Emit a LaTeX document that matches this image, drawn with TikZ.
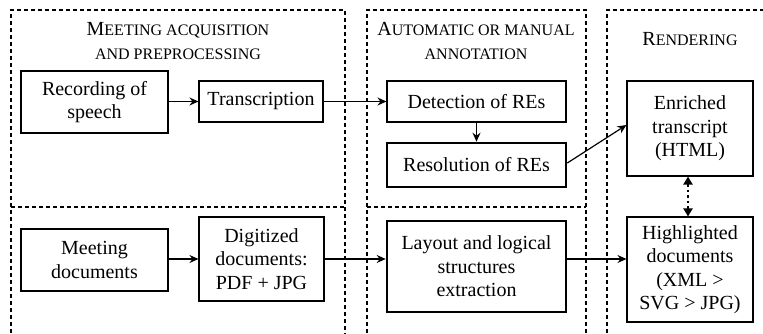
\documentclass[tikz,border=0pt]{standalone}
\usepackage{fontspec}
\setmainfont{Liberation Serif}
\usetikzlibrary{arrows.meta}
\newcommand{\MySC}[2]{{\fontsize{20}{24}\selectfont #1}{\fontsize{16}{24}\selectfont #2}}
\begin{document}
\begin{tikzpicture}[x=1pt,y=-1pt,
  box/.style={draw, line width=1.1pt, align=center, inner sep=0pt, font=\fontsize{20}{23.5}\selectfont},
  thickbox/.style={box, line width=2.6pt},
  frame/.style={dash pattern=on 4pt off 3pt, line width=1.1pt},
  arr/.style={-{Stealth[length=9pt,width=8pt,inset=3pt]}, line width=1.2pt},
  title/.style={align=center, inner sep=0pt, font=\fontsize{16}{24}\selectfont}]
\useasboundingbox (0,0) rectangle (763,333);
\begin{scope}
\clip (0,0) rectangle (763,333);
\draw[frame] (11,340) -- (11,10) -- (345,10) -- (345,340);
\draw[frame] (11,207) -- (345,207);
\draw[frame] (367,340) -- (367,10) -- (586,10) -- (586,340);
\draw[frame] (367,207) -- (586,207);
\draw[frame] (607,340) -- (607,10) -- (770,10);
\end{scope}
% titles
\node[title] (t1) at (178,41) {\MySC{M}{EETING ACQUISITION}\\\MySC{}{AND PREPROCESSING}};
\node[title] (t2) at (476,41) {\MySC{A}{UTOMATIC OR MANUAL}\\\MySC{}{ANNOTATION}};
\node[title] (t3) at (690,39) {\MySC{R}{ENDERING}};
% nodes
\node[box, minimum width=147pt, minimum height=62pt] (rec) at (94.5,102) {Recording of\\speech};
\node[box, minimum width=124pt, minimum height=41pt] (trans) at (261,101.5) {Transcription};
\node[box, minimum width=179pt, minimum height=41pt] (det) at (476.5,101.5) {Detection of REs};
\node[thickbox, minimum width=179pt, minimum height=44pt] (res) at (476.5,165) {Resolution of REs};
\node[box, minimum width=126pt, minimum height=95pt] (enr) at (690,128.5) {Enriched\\transcript\\(HTML)};
\node[box, minimum width=147pt, minimum height=62pt] (meet) at (94.5,260) {Meeting\\documents};
\node[box, minimum width=125pt, minimum height=84pt] (dig) at (261.5,259) {Digitized\\documents:\\PDF + JPG};
\node[thickbox, minimum width=179pt, minimum height=91pt] (lay) at (476.5,266.5) {Layout and logical\\structures\\extraction};
\node[box, minimum width=126pt, minimum height=105pt] (hig) at (690,269.5) {Highlighted\\documents\\(XML >\\SVG > JPG)};
% connectors
\draw[arr] (rec.east |- trans.west) -- (trans.west);
\draw[arr] (trans.east) -- (det.west);
\draw[arr] (det.south) -- (res.north);
\draw[arr] ([yshift=2pt]res.east) -- ([yshift=3.5pt]enr.west);
\draw[arr] (meet.east |- dig.west) -- (dig.west);
\draw[arr] (dig.east) -- (lay.west |- dig.east);
\draw[arr] (lay.east |- dig.east) -- (hig.west |- dig.east);
\draw[line width=2.6pt, dash pattern=on 2.5pt off 3pt, {Triangle[length=8pt,width=9pt]}-{Triangle[length=8pt,width=9pt]}] ([xshift=-2pt]enr.south) -- ([xshift=-2pt]hig.north);
\end{tikzpicture}
\end{document}
